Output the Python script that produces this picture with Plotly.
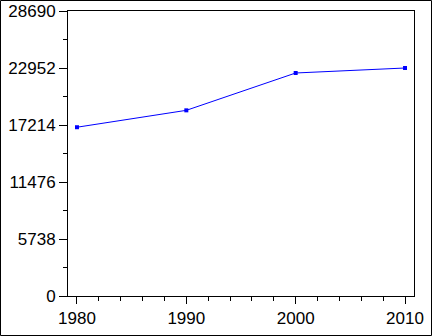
import plotly.graph_objects as go

years = [1980, 1990, 2000, 2010]
values = [16990, 18690, 22450, 22952]
y_ticks = [0, 5738, 11476, 17214, 22952, 28690]
x_ticks = [1980, 1990, 2000, 2010]

W, H = 432, 336
L, R, T, B = 68, 18, 11, 40
pw, ph = W - L - R, H - T - B

fig = go.Figure()
fig.add_trace(go.Scatter(
    x=years, y=values, mode="lines+markers",
    line=dict(color="#0000FF", width=1),
    marker=dict(symbol="square", size=4, color="#0000FF"),
    showlegend=False, cliponaxis=False,
))

font = dict(family="Liberation Sans, Arial, sans-serif", size=17, color="black")

fig.update_layout(
    width=W, height=H,
    margin=dict(l=L, r=R, t=T, b=B, pad=0, autoexpand=False),
    paper_bgcolor="white", plot_bgcolor="white",
    font=font,
    xaxis=dict(
        range=[1979.18, 2010.82], tickvals=x_ticks, ticktext=[str(v) for v in x_ticks],
        showgrid=False, zeroline=False, showline=True, linecolor="black", linewidth=1,
        mirror=True, ticks="outside", ticklen=7, tickwidth=1, tickcolor="black",
        minor=dict(dtick=2, tick0=1980, ticks="outside", ticklen=4, tickwidth=1, tickcolor="black", showgrid=False),
        tickfont=font, automargin=False,
    ),
    yaxis=dict(
        range=[0, 28690], tickvals=y_ticks, ticktext=[str(v) for v in y_ticks],
        showgrid=False, zeroline=False, showline=True, linecolor="black", linewidth=1,
        mirror=True, ticks="outside", ticklen=8, tickwidth=1, tickcolor="black",
        minor=dict(dtick=2869, tick0=0, ticks="outside", ticklen=4, tickwidth=1, tickcolor="black", showgrid=False),
        tickfont=font, automargin=False,
    ),
    shapes=[dict(
        type="rect", xref="paper", yref="paper",
        x0=(0.5 - L) / pw, x1=(W - 0.5 - L) / pw,
        y0=-(H - 0.5 - T - ph) / ph, y1=(ph + T - 0.5) / ph,
        line=dict(color="black", width=1), fillcolor="rgba(0,0,0,0)", layer="above",
    )],
)

fig.write_html("out.html")
